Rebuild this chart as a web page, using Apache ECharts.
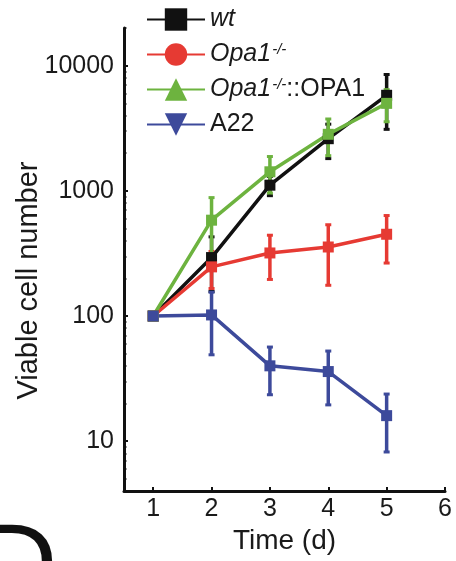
<!DOCTYPE html>
<html>
<head>
<meta charset="utf-8">
<script src="https://cdn.jsdelivr.net/npm/echarts@6/dist/echarts.min.js"></script>
<style>
html,body{margin:0;padding:0;background:#fff;}
#chart{width:456px;height:561px;}
</style>
</head>
<body>
<div id="chart"></div>
<script>
// ---- data ----
const days = [1, 2, 3, 4, 5];
const seriesNames = ['wt', 'Opa1-/-', 'Opa1-/-::OPA1', 'A22'];
const wtMean = [100, 293, 1110, 2610, 5800];
const wtSD = [0, 136, 195, 800, 2700];
const opaMean = [100, 247, 319, 356, 450];
const opaSD = [0, 81, 123, 180, 185];
const rescueMean = [100, 583, 1420, 2830, 5000];
const rescueSD = [0, 300, 460, 920, 1435];
const a22Mean = [100, 102, 40, 36, 16];
const a22SD = [0, 53, 16.5, 16.5, 7.8];
const xTickLabels = [1, 2, 3, 4, 5, 6];
const yTickLabels = [10, 100, 1000, 10000];

const colors = ['#111111', '#e63a33', '#6db33f', '#3d4a9b'];
const legendSymbols = ['rect', 'circle', 'triangle', 'path://M0,0L20,0L10,17Z'];
const means = [wtMean, opaMean, rescueMean, a22Mean];
const sds = [wtSD, opaSD, rescueSD, a22SD];

// minor tick positions of the log axis (2..9 per decade)
const yMinorTicks = [];
[1, 10, 100, 1000, 10000].forEach(function (d) {
  for (let k = 2; k <= 9; k++) { yMinorTicks.push(d * k); }
});

const FONT = 'Liberation Sans, Arial, Helvetica, sans-serif';

const series = [];
// legend-only series (first with each name, so legend takes their icons)
seriesNames.forEach(function (name, i) {
  series.push({
    type: 'line', name: name, data: [], xAxisIndex: 0, yAxisIndex: 0,
    symbol: legendSymbols[i], symbolSize: 12,
    itemStyle: { color: colors[i] },
    lineStyle: { color: colors[i], width: 3.5 }
  });
});

seriesNames.forEach(function (name, i) {
  series.push({
    type: 'line', name: name, xAxisIndex: 0, yAxisIndex: 0,
    data: days.map(function (d, j) { return [d, means[i][j]]; }),
    symbol: 'rect', symbolSize: 11,
    itemStyle: { color: colors[i] },
    lineStyle: { color: colors[i], width: 3.5 },
    emphasis: { disabled: true },
    z: 3
  });
  series.push({
    type: 'custom', name: name, xAxisIndex: 0, yAxisIndex: 0,
    data: days.map(function (d, j) {
      return [d, means[i][j] - sds[i][j], means[i][j] + sds[i][j]];
    }),
    renderItem: function (params, api) {
      const x = api.value(0), lo = api.value(1), hi = api.value(2);
      if (hi <= lo) { return null; }
      const p1 = api.coord([x, hi]);
      const p2 = api.coord([x, lo]);
      const c = colors[i];
      const cw = 3;
      return {
        type: 'group',
        children: [
          { type: 'line', shape: { x1: p1[0], y1: p1[1], x2: p2[0], y2: p2[1] }, style: { stroke: c, lineWidth: 3.5 } },
          { type: 'line', shape: { x1: p1[0] - cw, y1: p1[1], x2: p1[0] + cw, y2: p1[1] }, style: { stroke: c, lineWidth: 3 } },
          { type: 'line', shape: { x1: p2[0] - cw, y1: p2[1], x2: p2[0] + cw, y2: p2[1] }, style: { stroke: c, lineWidth: 3 } }
        ]
      };
    },
    z: 3
  });
});

const legendFormat = {
  'wt': '{it|wt}',
  'Opa1-/-': '{it|Opa1}{sup|-/-}',
  'Opa1-/-::OPA1': '{it|Opa1}{sup|-/-}{n|::OPA1}',
  'A22': '{n|A22}'
};

const option = {
  backgroundColor: '#ffffff',
  animation: false,
  textStyle: { fontFamily: FONT },
  grid: { left: 124, right: 11, top: 28, bottom: 70, containLabel: false, outerBoundsMode: 'none' },
  legend: {
    orient: 'vertical', left: 141, top: 2,
    itemWidth: 58, itemHeight: 28, itemGap: 10,
    data: seriesNames,
    formatter: function (name) { return legendFormat[name]; },
    textStyle: {
      fontSize: 25, color: '#1a1a1a', fontFamily: FONT,
      rich: {
        it: { fontSize: 25, fontStyle: 'italic', color: '#1a1a1a', fontFamily: FONT },
        n: { fontSize: 25, color: '#1a1a1a', fontFamily: FONT },
        sup: { fontSize: 15, fontStyle: 'italic', color: '#1a1a1a', fontFamily: FONT, verticalAlign: 'top', padding: [0, 0, 0, 1] }
      }
    },
    selectedMode: false
  },
  xAxis: {
    type: 'value', min: 0.5, max: 6,
    name: 'Time (d)', nameLocation: 'middle', nameGap: 29,
    nameTextStyle: { fontSize: 28, color: '#1a1a1a', fontFamily: FONT },
    axisLine: { show: true, onZero: false, lineStyle: { color: '#111', width: 3 } },
    axisTick: { show: true, inside: true, length: 4, lineStyle: { color: '#111', width: 2 }, customValues: xTickLabels },
    axisLabel: { fontSize: 25, color: '#1a1a1a', margin: 6, fontFamily: FONT, customValues: xTickLabels },
    splitLine: { show: false }
  },
  yAxis: [
    {
      type: 'log', logBase: 10, min: 4, max: 20000, position: 'left', offset: 0,
      name: 'Viable cell number', nameLocation: 'middle', nameGap: 81, nameMoveOverlap: false,
      nameTextStyle: { fontSize: 29, color: '#1a1a1a', fontFamily: FONT, padding: [0, 42, 0, 0] },
      axisLine: { show: true, lineStyle: { color: '#111', width: 3 } },
      axisTick: { show: true, inside: true, length: 4, lineStyle: { color: '#111', width: 2 }, customValues: yTickLabels },
      axisLabel: {
        fontSize: 25, color: '#1a1a1a', margin: 10, fontFamily: FONT, customValues: yTickLabels,
        formatter: function (v) { return String(Math.round(v)); }
      },
      splitLine: { show: false }
    },
    {
      type: 'log', logBase: 10, min: 4, max: 20000, position: 'left', offset: 0,
      axisLine: { show: false },
      axisTick: { show: true, inside: true, length: 2.5, lineStyle: { color: '#111', width: 1.5 }, customValues: yMinorTicks },
      axisLabel: { show: false },
      splitLine: { show: false }
    }
  ],
  graphic: [
    { type: 'text', left: -22, top: 515, style: { text: 'D', fontSize: 110, fill: '#111', fontFamily: FONT } }
  ],
  series: series
};

const chart = echarts.init(document.getElementById('chart'), null, { renderer: 'canvas' });
chart.setOption(option);
</script>
</body>
</html>
